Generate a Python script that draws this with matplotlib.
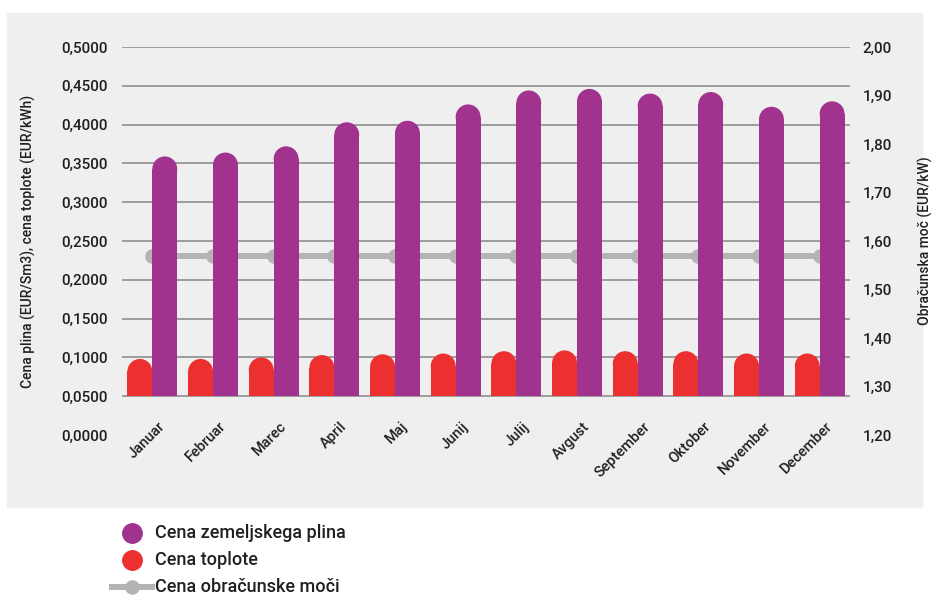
import matplotlib
matplotlib.use("Agg")
import matplotlib.pyplot as plt
from matplotlib.patches import Ellipse, Rectangle
from matplotlib.lines import Line2D

# ---- data -------------------------------------------------------------
months = ["Januar", "Februar", "Marec", "April", "Maj", "Junij",
          "Julij", "Avgust", "September", "Oktober", "November", "December"]
gas_price = [0.359, 0.364, 0.372, 0.403, 0.405, 0.426,
             0.444, 0.446, 0.440, 0.442, 0.423, 0.430]
heat_price = [0.098, 0.098, 0.100, 0.103, 0.104, 0.105,
              0.108, 0.109, 0.108, 0.108, 0.105, 0.105]
power_price = [1.57, 1.57, 1.57, 1.57, 1.57, 1.57,
               1.57, 1.57, 1.57, 1.57, 1.57, 1.57]
left_ticks = [0.0, 0.05, 0.10, 0.15, 0.20, 0.25, 0.30, 0.35, 0.40, 0.45, 0.50]
right_ticks = [1.20, 1.30, 1.40, 1.50, 1.60, 1.70, 1.80, 1.90, 2.00]
series_names = ["Cena zemeljskega plina", "Cena toplote", "Cena obračunske moči"]
left_label = "Cena plina (EUR/Sm3), cena toplote (EUR/kWh)"
right_label = "Obračunska moč (EUR/kW)"
baseline = 0.05

# ---- style ------------------------------------------------------------
PURPLE = "#a1338f"
RED = "#ec2f2f"
GREY = "#b4b4b4"
GRID = "#8e8e8e"
PANEL = "#efefef"
TEXT = "#231f20"
plt.rcParams["font.family"] = ["Roboto", "DejaVu Sans"]

W, H = 933, 596
fig = plt.figure(figsize=(W / 100, H / 100), dpi=100)
fig.patch.set_facecolor("white")

# light grey panel behind the chart
fig.patches.append(Rectangle((7 / W, 1 - 507 / H), (922 - 7) / W, (507 - 13) / H,
                             transform=fig.transFigure, color=PANEL, zorder=-10))

ax = fig.add_axes([122 / W, 1 - 435 / H, (850 - 122) / W, (435 - 47) / H])
ax2 = ax.twinx()
ax.set_zorder(ax2.get_zorder() + 1)
ax.patch.set_visible(False)
ax2.patch.set_visible(False)

n = len(months)
ax.set_xlim(-0.5, n - 0.5)
ax.set_ylim(left_ticks[0], left_ticks[-1])
ax2.set_ylim(right_ticks[0], right_ticks[-1])

for a in (ax, ax2):
    for s in a.spines.values():
        s.set_visible(False)

# horizontal grid from the baseline upward
for v in left_ticks:
    if v >= baseline - 1e-9:
        ax.axhline(v, color=GRID, lw=1.2, zorder=1)

# rounded-top bars
bw = 0.41
px_x = ax.transData.transform((1, 0))[0] - ax.transData.transform((0, 0))[0]
px_y = ax.transData.transform((0, 1))[1] - ax.transData.transform((0, 0))[1]
r_y = (bw / 2 * px_x) / px_y


def rounded_bar(x, top, color):
    ax.bar(x, top - r_y - baseline, width=bw, bottom=baseline,
           color=color, lw=0, zorder=3)
    ax.add_patch(Ellipse((x, top - r_y), bw, 2 * r_y, color=color, lw=0, zorder=3))


for i in range(n):
    rounded_bar(i - bw / 2, heat_price[i], RED)
    rounded_bar(i + bw / 2, gas_price[i], PURPLE)

# capacity price line on the secondary axis (drawn behind the bars)
ax2.plot(range(n), power_price, color=GREY, lw=4.3, marker="o",
         markersize=9.5, markerfacecolor=GREY, markeredgecolor=GREY, zorder=2)

# ticks
ax.set_yticks(left_ticks)
ax.set_yticklabels([f"{v:.4f}".replace(".", ",") for v in left_ticks],
                   fontsize=11, color=TEXT, fontweight="medium")
ax.tick_params(axis="y", length=0, pad=10)
ax2.set_yticks(right_ticks)
ax2.set_yticklabels([f"{v:.2f}".replace(".", ",") for v in right_ticks],
                    fontsize=11, color=TEXT, fontweight="medium")
ax2.tick_params(axis="y", length=0, pad=9)

ax.set_xticks([])
for i, m in enumerate(months):
    ax.text(i + 0.17, 0.014, m, rotation=45, ha="right", va="center",
            rotation_mode="anchor", fontsize=10.5, color=TEXT, zorder=5,
            fontweight="medium")

ax.set_ylabel(left_label, fontsize=10, color=TEXT, fontweight="medium")
ax.yaxis.set_label_coords(-0.118, 0.5)
ax2.set_ylabel(right_label, fontsize=10, color=TEXT, fontweight="medium")
ax2.yaxis.set_label_coords(1.093, 0.5)

# legend
rows = [533, 560, 587]
mx, tx = 132 / W, 155 / W
fig.add_artist(Line2D([mx], [1 - rows[0] / H], marker="o", markersize=14,
                      color=PURPLE, lw=0, transform=fig.transFigure))
fig.add_artist(Line2D([mx], [1 - rows[1] / H], marker="o", markersize=14,
                      color=RED, lw=0, transform=fig.transFigure))
fig.add_artist(Line2D([112 / W, 152 / W], [1 - rows[2] / H] * 2,
                      color=GREY, lw=4.3, transform=fig.transFigure))
fig.add_artist(Line2D([mx], [1 - rows[2] / H], marker="o", markersize=9.5,
                      color=GREY, lw=0, transform=fig.transFigure))
for y, name in zip(rows, series_names):
    fig.text(tx, 1 - y / H, name, fontsize=13, color=TEXT, va="center", ha="left",
             fontweight="medium")

fig.savefig("out.png", dpi=100)
